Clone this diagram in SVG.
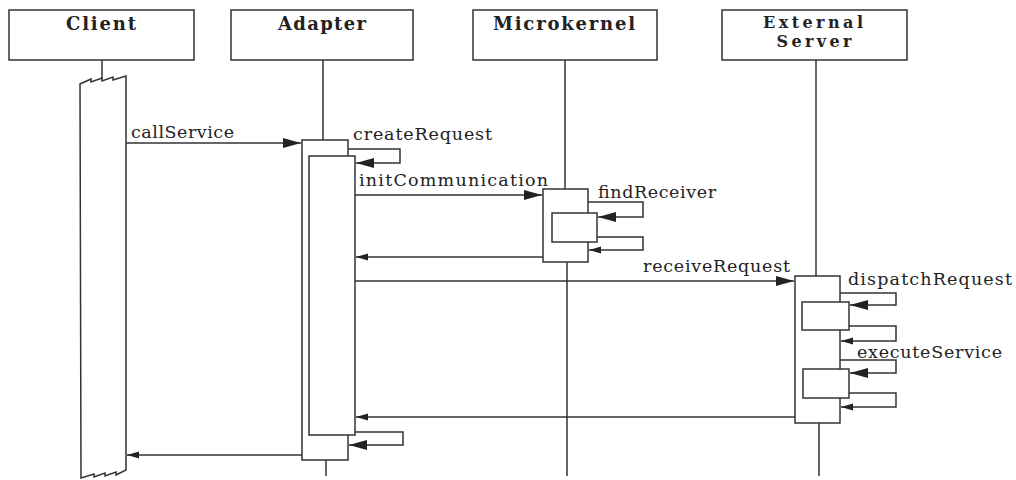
<svg xmlns="http://www.w3.org/2000/svg" width="1016" height="480" viewBox="0 0 1016 480">
<style>
  .box { fill: #fff; stroke: #333; stroke-width: 1.5; }
  .ln { fill: none; stroke: #333; stroke-width: 1.5; }
  .hdr { font-family: "DejaVu Serif", "Liberation Serif", serif; font-weight: bold; font-size: 18px; fill: #222; text-anchor: middle; }
  .hdr2 { font-size: 16px; }
  .lbl { font-family: "DejaVu Serif", "Liberation Serif", serif; font-size: 17.5px; fill: #222; }
  .big { marker-end: url(#big); }
  .sm { marker-end: url(#sm); }
</style>
<defs>
  <marker id="big" markerUnits="userSpaceOnUse" markerWidth="20" markerHeight="12" refX="18" refY="5" orient="auto">
    <path d="M0,0 L18,5 L0,10 z" fill="#222"/>
  </marker>
  <marker id="sm" markerUnits="userSpaceOnUse" markerWidth="14" markerHeight="8" refX="12" refY="3.5" orient="auto">
    <path d="M0,0 L12,3.5 L0,7 z" fill="#222"/>
  </marker>
</defs>
<rect width="1016" height="480" fill="#fff"/>

<g id="client">
  <rect class="box" x="9" y="10" width="185" height="50"/>
  <text class="hdr" x="101" y="30" textLength="70">Client</text>
  <line class="ln" x1="102" y1="60" x2="102" y2="79"/>
  <path class="ln" d="M80,84 L91,79 L91,82 L102,78 L102,81 L113,77 L113,80 L126,76 L126,470 L116,475 L116,472 L105,476 L105,473 L94,477 L94,474 L81,478 L80,84 z" fill="#fff"/>
</g>

<g id="adapter">
  <rect class="box" x="231" y="10" width="182" height="50"/>
  <text class="hdr" x="322" y="30" textLength="88">Adapter</text>
  <line class="ln" x1="323" y1="60" x2="323" y2="140"/>
  <line class="ln" x1="326" y1="460" x2="326" y2="476"/>
  <rect class="box" x="302" y="140" width="46" height="320"/>
  <rect class="box" x="309" y="156" width="46" height="279"/>
</g>

<g id="microkernel">
  <rect class="box" x="473" y="10" width="184" height="50"/>
  <text class="hdr" x="564" y="30" textLength="142">Microkernel</text>
  <line class="ln" x1="565" y1="60" x2="565" y2="189"/>
  <line class="ln" x1="567" y1="262" x2="567" y2="476"/>
  <rect class="box" x="543" y="189" width="45" height="73"/>
  <rect class="box" x="552" y="213" width="45" height="29"/>
</g>

<g id="external-server">
  <rect class="box" x="722" y="10" width="185" height="50"/>
  <text class="hdr hdr2" x="813" y="28" textLength="100">External</text>
  <text class="hdr hdr2" x="814" y="47" textLength="75">Server</text>
  <line class="ln" x1="816" y1="60" x2="816" y2="276"/>
  <line class="ln" x1="819" y1="423" x2="819" y2="476"/>
  <rect class="box" x="795" y="276" width="45" height="147"/>
  <rect class="box" x="802" y="302" width="47" height="28"/>
  <rect class="box" x="803" y="369" width="46" height="29"/>
</g>

<g id="connectors">
  <line class="ln big" x1="126" y1="143" x2="301" y2="143"/>
  <text class="lbl" x="131" y="138" textLength="103">callService</text>

  <polyline class="ln big" points="348,149 400,149 400,163 356,163"/>
  <text class="lbl" x="353" y="140" textLength="139">createRequest</text>

  <line class="ln big" x1="355" y1="195" x2="542" y2="195"/>
  <text class="lbl" x="359" y="186" textLength="189">initCommunication</text>

  <polyline class="ln big" points="588,202 643,202 643,217 598,217"/>
  <text class="lbl" x="598" y="198" textLength="118">findReceiver</text>
  <polyline class="ln sm" points="597,237 643,237 643,250 589,250"/>

  <line class="ln sm" x1="543" y1="257" x2="356" y2="257"/>

  <line class="ln big" x1="355" y1="281" x2="794" y2="281"/>
  <text class="lbl" x="643" y="272" textLength="147">receiveRequest</text>

  <polyline class="ln big" points="840,293 896,293 896,305 850,305"/>
  <text class="lbl" x="848" y="285" textLength="164">dispatchRequest</text>
  <polyline class="ln sm" points="849,326 896,326 896,341 841,341"/>

  <polyline class="ln big" points="840,360 896,360 896,373 850,373"/>
  <text class="lbl" x="857" y="358" textLength="145">executeService</text>
  <polyline class="ln sm" points="849,393 896,393 896,407 841,407"/>

  <line class="ln sm" x1="795" y1="417" x2="356" y2="417"/>

  <polyline class="ln big" points="355,432 403,432 403,445 349,445"/>

  <line class="ln sm" x1="302" y1="455" x2="127" y2="455"/>
</g>
</svg>
